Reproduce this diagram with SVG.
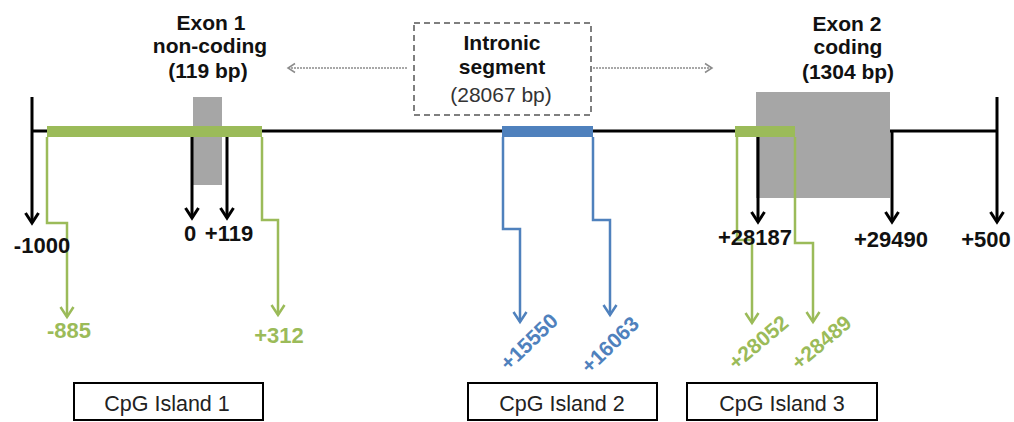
<svg xmlns="http://www.w3.org/2000/svg" width="1014" height="422" viewBox="0 0 1014 422">
<style>
text{font-family:"Liberation Sans",Arial,sans-serif;font-size:21px;}
.n{font-size:22px;}
.cg{font-size:21.5px;fill:#222;}
.b{font-weight:bold;}
.c{text-anchor:middle;}
.k{fill:#111;}
.g{fill:#9bbb59;}
.u{fill:#4f81bd;}
.gray{fill:#a6a6a6;}
.blk{stroke:#000;stroke-width:3;fill:none;}
.gl{stroke:#9bbb59;stroke-width:2.5;fill:none;}
.bl{stroke:#4f81bd;stroke-width:2.5;fill:none;}
.dash{stroke:#8c8c8c;stroke-width:1.5;stroke-dasharray:2 1;fill:none;}
.box{fill:#fff;stroke:#000;stroke-width:2;}
</style>
<defs>
<marker id="ak" markerUnits="userSpaceOnUse" markerWidth="16" markerHeight="16" viewBox="0 0 16 16" refX="13" refY="8" orient="auto"><path d="M3,1.5 L13,8 L3,14.5" fill="none" stroke="#000" stroke-width="3"/></marker>
<marker id="ag" markerUnits="userSpaceOnUse" markerWidth="16" markerHeight="16" viewBox="0 0 16 16" refX="13" refY="8" orient="auto"><path d="M3,1.5 L13,8 L3,14.5" fill="none" stroke="#9bbb59" stroke-width="2.5"/></marker>
<marker id="au" markerUnits="userSpaceOnUse" markerWidth="16" markerHeight="16" viewBox="0 0 16 16" refX="13" refY="8" orient="auto"><path d="M3,1.5 L13,8 L3,14.5" fill="none" stroke="#4f81bd" stroke-width="2.5"/></marker>
<marker id="ad" markerUnits="userSpaceOnUse" markerWidth="12" markerHeight="12" viewBox="0 0 12 12" refX="10" refY="6" orient="auto"><path d="M3,1.5 L10,6 L3,10.5" fill="none" stroke="#8c8c8c" stroke-width="1.5"/></marker>
</defs>
<rect width="1014" height="422" fill="#fff"/>

<g id="backbone">
<line x1="32" y1="131" x2="997" y2="131" class="blk"/>
</g>

<g id="exon1">
<rect x="193" y="97" width="29" height="88" class="gray"/>
<text class="b c k" x="211" y="30">Exon 1</text>
<text class="b c k" x="210" y="53">non-coding</text>
<text class="b c k" x="208" y="78">(119 bp)</text>
</g>

<g id="exon2">
<rect x="756" y="92" width="134" height="106" class="gray"/>
<text class="b c k" x="847" y="31">Exon 2</text>
<text class="b c k" x="848" y="54">coding</text>
<text class="b c k" x="848" y="79">(1304 bp)</text>
</g>

<g id="intron">
<rect x="414" y="23" width="177" height="92" fill="#fff" stroke="#7f7f7f" stroke-width="2" stroke-dasharray="6 4"/>
<text class="b c k" x="502" y="50">Intronic</text>
<text class="b c k" x="502" y="74">segment</text>
<text class="c" x="501" y="102" fill="#333">(28067 bp)</text>
</g>

<g id="cpg1-bar"><rect x="47" y="126" width="215" height="11" fill="#9bbb59"/></g>
<g id="cpg2-bar"><rect x="502" y="126" width="91" height="11" fill="#4f81bd"/></g>
<g id="cpg3-bar"><rect x="735" y="126" width="60" height="11" fill="#9bbb59"/></g>

<g id="connectors">
<line x1="32" y1="97" x2="32" y2="223" class="blk" marker-end="url(#ak)"/>
<line x1="192" y1="137" x2="192" y2="218" class="blk" marker-end="url(#ak)"/>
<line x1="227" y1="137" x2="227" y2="218" class="blk" marker-end="url(#ak)"/>
<line x1="758" y1="137" x2="758" y2="222" class="blk" marker-end="url(#ak)"/>
<line x1="892" y1="131" x2="892" y2="222" class="blk" marker-end="url(#ak)"/>
<line x1="997" y1="97" x2="997" y2="222" class="blk" marker-end="url(#ak)"/>
<polyline points="47,137 47,223 67,223 67,317" class="gl" marker-end="url(#ag)"/>
<polyline points="262,137 262,220 278,220 278,315" class="gl" marker-end="url(#ag)"/>
<polyline points="503,137 503,229 520,229 520,322" class="bl" marker-end="url(#au)"/>
<polyline points="593,137 593,220 610,220 610,315" class="bl" marker-end="url(#au)"/>
<polyline points="737,137 737,240 752,240 752,323" class="gl" marker-end="url(#ag)"/>
<polyline points="795,137 795,243 813,243 813,322" class="gl" marker-end="url(#ag)"/>
<line x1="407" y1="68" x2="288" y2="68" class="dash" marker-end="url(#ad)"/>
<line x1="593" y1="68" x2="712" y2="68" class="dash" marker-end="url(#ad)"/>
</g>

<g id="positions">
<text class="b c k n" x="42" y="253">-1000</text>
<text class="b c k n" x="190" y="241">0</text>
<text class="b c k n" x="229" y="241">+119</text>
<text class="b c k n" x="755" y="245">+28187</text>
<text class="b c k n" x="891" y="247">+29490</text>
<text class="b c k n" x="986" y="247">+500</text>
<text class="b c g n" x="69" y="338">-885</text>
<text class="b c g n" x="279" y="343">+312</text>
<text class="b c u" transform="translate(534,347) rotate(-44)">+15550</text>
<text class="b c u" transform="translate(615,350) rotate(-44)">+16063</text>
<text class="b c g" transform="translate(763,348) rotate(-40)">+28052</text>
<text class="b c g" transform="translate(826,348) rotate(-40)">+28489</text>
</g>

<g id="cpg-island-1">
<rect x="74" y="383" width="189" height="37" class="box"/>
<text class="c cg" x="167" y="411">CpG Island 1</text>
</g>
<g id="cpg-island-2">
<rect x="468" y="383" width="189" height="37" class="box"/>
<text class="c cg" x="562" y="411">CpG Island 2</text>
</g>
<g id="cpg-island-3">
<rect x="687" y="383" width="190" height="37" class="box"/>
<text class="c cg" x="782" y="411">CpG Island 3</text>
</g>
</svg>
